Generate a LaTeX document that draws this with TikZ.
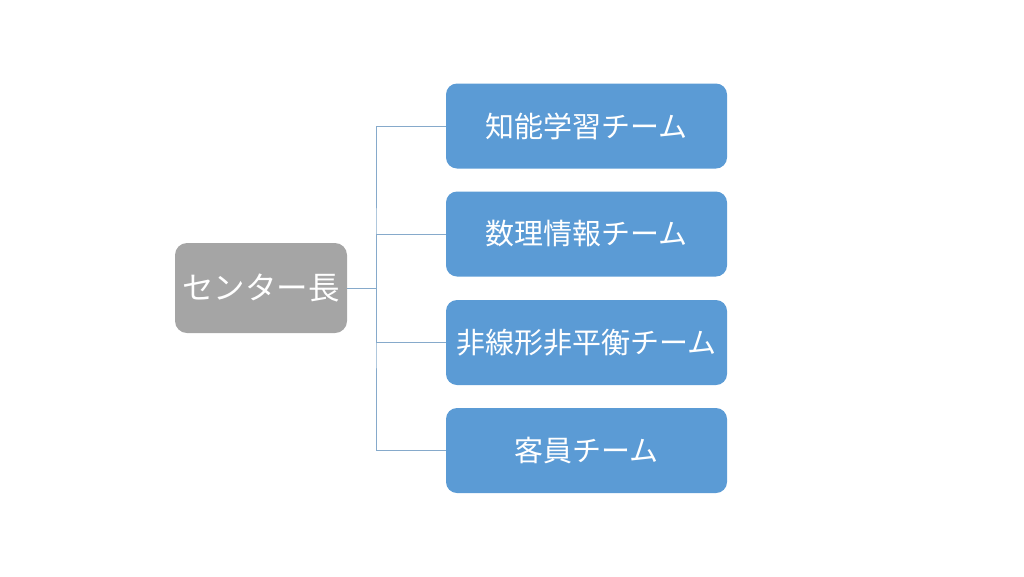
\documentclass[tikz,border=0pt]{standalone}
\usepackage{fontspec}
\newfontfamily\cjk{Noto Sans CJK JP}
\definecolor{boxblue}{HTML}{5B9BD5}
\definecolor{boxgray}{HTML}{A5A5A5}
\definecolor{linkblue}{HTML}{86AACB}
\begin{document}
\begin{tikzpicture}[x=1pt,y=-1pt,
  team/.style={fill=boxblue,draw=none,rounded corners=11pt,minimum width=281pt,minimum height=85pt,text=white,font=\cjk\fontsize{29}{32}\selectfont,inner sep=0pt},
  head/.style={fill=boxgray,draw=none,rounded corners=12pt,minimum width=172pt,minimum height=90pt,text=white,font=\cjk\fontsize{31.5}{35}\selectfont,inner sep=0pt},
  link/.style={draw=linkblue,line width=0.9pt}]
\useasboundingbox (0,0) rectangle (1024,576);
\node[head] (h) at (261,288) {センター長};
\node[team] (t1) at (586.5,126) {知能学習チーム};
\node[team] (t2) at (586.5,234) {数理情報チーム};
\node[team] (t3) at (586.5,342.5) {非線形非平衡チーム};
\node[team] (t4) at (586.5,450.5) {客員チーム};
\coordinate (j) at (376,288);
\draw[link] (h.east) -- (j);
\draw[link] (t1.west) -| (j) |- (t4.west);
\draw[link] (j) |- (t2.west);
\draw[link] (j) |- (t3.west);
\end{tikzpicture}
\end{document}
